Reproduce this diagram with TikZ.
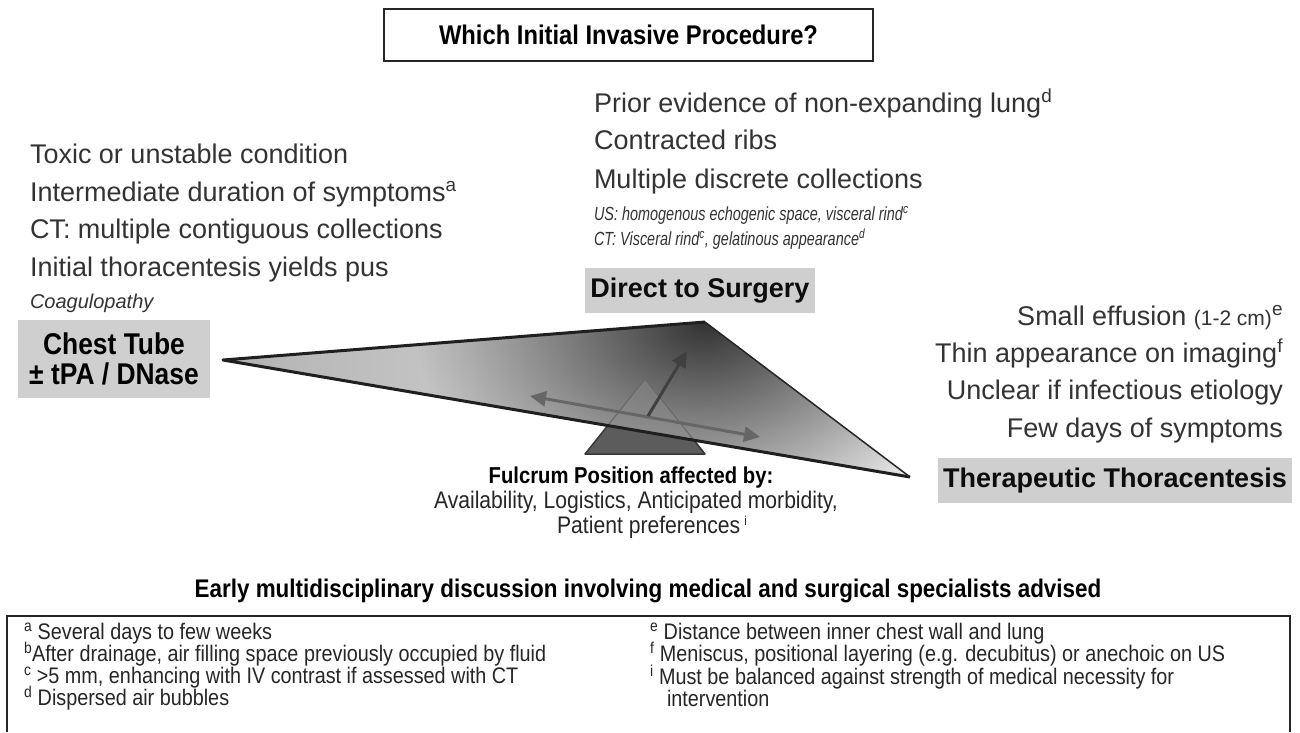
\documentclass[tikz,border=0pt]{standalone}
\usepackage{fontspec}
\setmainfont{Liberation Sans}
\newfontfamily\narrowfont[FakeStretch=0.76]{Liberation Sans}
\newfontfamily\condfont[FakeStretch=0.88]{Liberation Sans}
\usetikzlibrary{arrows.meta,fadings}
\tikzfading[name=fadeT, inner color=transparent!0, outer color=transparent!100]
\begin{document}
\begin{tikzpicture}[x=1pt,y=-1pt,
  every node/.style={inner sep=0pt, outer sep=0pt},
  mtxt/.style={font=\fontsize{27}{32}\selectfont, text=black!80},
  itxt/.style={font=\fontsize{19}{22}\selectfont\narrowfont\itshape, text=black!80},
  ctxt/.style={font=\fontsize{20}{22}\selectfont\itshape, text=black!80},
  btxt/.style={font=\fontsize{27}{30}\selectfont\bfseries, text=black!95},
  ftxt/.style={font=\fontsize{24}{26}\selectfont\condfont, text=black!85},
  ntxt/.style={font=\fontsize{22.5}{24}\selectfont\condfont, text=black!85},
  gbox/.style={fill=black!19, align=center},
  edge/.style={draw=black!88, line width=3pt, line join=round},
  arr/.style={line width=3pt, -{Triangle[length=16pt,width=15pt]}},
  darr/.style={line width=3pt, {Triangle[length=16pt,width=15pt]}-{Triangle[length=16pt,width=15pt]}}
]
\useasboundingbox (0,0) rectangle (1300,732);
\fill[white] (0,0) rectangle (1300,732);

% title
\node[draw=black!85, line width=1.5pt, minimum width=489pt, minimum height=52pt,
      font=\fontsize{27}{30}\selectfont\condfont\bfseries] (title) at (628.5,35) {Which Initial Invasive Procedure?};

% left list
\node[mtxt, anchor=base west] (l1) at (30,163) {Toxic or unstable condition};
\node[mtxt, anchor=base west] (l2) at (30,201) {Intermediate duration of symptoms\textsuperscript{a}};
\node[mtxt, anchor=base west] (l3) at (30,238) {CT: multiple contiguous collections};
\node[mtxt, anchor=base west] (l4) at (30,276) {Initial thoracentesis yields pus};
\node[ctxt, anchor=base west] (l5) at (30,308) {Coagulopathy};

\node[gbox, minimum width=192pt, minimum height=78pt,
      font=\fontsize{30}{30}\selectfont\condfont\bfseries] (chest) at (114,359) {Chest Tube\\± tPA / DNase};

% upper middle list
\node[mtxt, anchor=base west] (u1) at (594,112) {Prior evidence of non-expanding lung\textsuperscript{d}};
\node[mtxt, anchor=base west] (u2) at (594,149) {Contracted ribs};
\node[mtxt, anchor=base west] (u3) at (594,188) {Multiple discrete collections};
\node[itxt, anchor=base west] (u4) at (594,220) {US: homogenous echogenic space, visceral rind\textsuperscript{c}};
\node[itxt, anchor=base west] (u5) at (594,245) {CT: Visceral rind\textsuperscript{c}, gelatinous appearance\textsuperscript{d}};

\node[gbox, minimum width=230pt, minimum height=45pt, btxt] (surg) at (700,290.5) {Direct to Surgery};

% right list
\node[mtxt, anchor=base east] (r1) at (1283,325) {Small effusion {\fontsize{21}{24}\selectfont(1-2 cm)}\textsuperscript{e}};
\node[mtxt, anchor=base east] (r2) at (1283,362) {Thin appearance on imaging\textsuperscript{f}};
\node[mtxt, anchor=base east] (r3) at (1283,399) {Unclear if infectious etiology};
\node[mtxt, anchor=base east] (r4) at (1283,437) {Few days of symptoms};

\node[gbox, minimum width=354pt, minimum height=45pt, btxt] (thora) at (1115,480.5) {Therapeutic Thoracentesis};

% lever and fulcrum
\coordinate (LL) at (223,360);
\coordinate (LT) at (705,322);
\coordinate (LR) at (910,477);
\coordinate (FA) at (645,379);
\coordinate (FB1) at (585,454);
\coordinate (FB2) at (705,454);

\fill[black!64, draw=black!78, line width=1.5pt, line join=round] (FB1) -- (FA) -- (FB2) -- cycle;
\begin{scope}
  \clip (LL) -- (LT) -- (LR) -- cycle;
  \shade[left color=black!30, right color=black!8] (223,300) rectangle (910,480);
  \fill[black!80, path fading=fadeT] (705,322) ellipse (290 and 210);
  \fill[black!45, opacity=0.5] (FB1) -- (FA) -- (FB2) -- cycle;
  \draw[black!60, line width=1pt] (FB1) -- (FA) -- (FB2);
\end{scope}
\draw[edge] (LT) -- (LL) -- (LR);
\draw[draw=black!85, line width=1.5pt] (LT) -- (LR);

% arrows
\coordinate (ha1) at (530,396);
\coordinate (ha2) at (760,437);
\coordinate (va1) at (648,416);
\coordinate (va2) at (687,351);
\draw[darr, black!60] (ha1) -- (ha2);
\draw[arr, black!75] (va1) -- (va2);

% fulcrum text
\node[font=\fontsize{23}{26}\selectfont\condfont\bfseries, anchor=base] (fp) at (631,483) {Fulcrum Position affected by:};
\node[ftxt, anchor=base] (fp2) at (636,508) {Availability, Logistics, Anticipated morbidity,};
\node[ftxt, anchor=base] (fp3) at (652,533) {Patient preferences\,{\fontsize{13}{14}\selectfont\raisebox{8pt}{i}}};

\node[font=\fontsize{25.5}{28}\selectfont\condfont\bfseries, anchor=base] (early) at (648,597) {Early multidisciplinary discussion involving medical and surgical specialists advised};

% footnote box
\coordinate (bx1) at (7,732);
\coordinate (bx2) at (7,616);
\coordinate (bx3) at (1290,616);
\coordinate (bx4) at (1290,732);
\draw[black!85, line width=1.8pt] (bx1) -- (bx2) -- (bx3) -- (bx4);

\node[ntxt, anchor=base west] (na) at (24,639) {\textsuperscript{a} Several days to few weeks};
\node[ntxt, anchor=base west] (nb) at (24,661) {\textsuperscript{b}After drainage, air filling space previously occupied by fluid};
\node[ntxt, anchor=base west] (nc) at (24,683) {\textsuperscript{c} >5 mm, enhancing with IV contrast if assessed with CT};
\node[ntxt, anchor=base west] (nd) at (24,705) {\textsuperscript{d} Dispersed air bubbles};
\node[ntxt, anchor=base west] (ne) at (650,639) {\textsuperscript{e} Distance between inner chest wall and lung};
\node[ntxt, anchor=base west] (nf) at (650,661) {\textsuperscript{f} Meniscus, positional layering (e.g. decubitus) or anechoic on US};
\node[ntxt, anchor=base west] (ni) at (650,684) {\textsuperscript{i} Must be balanced against strength of medical necessity for};
\node[ntxt, anchor=base west] (ni2) at (667,706) {intervention};
\end{tikzpicture}
\end{document}
